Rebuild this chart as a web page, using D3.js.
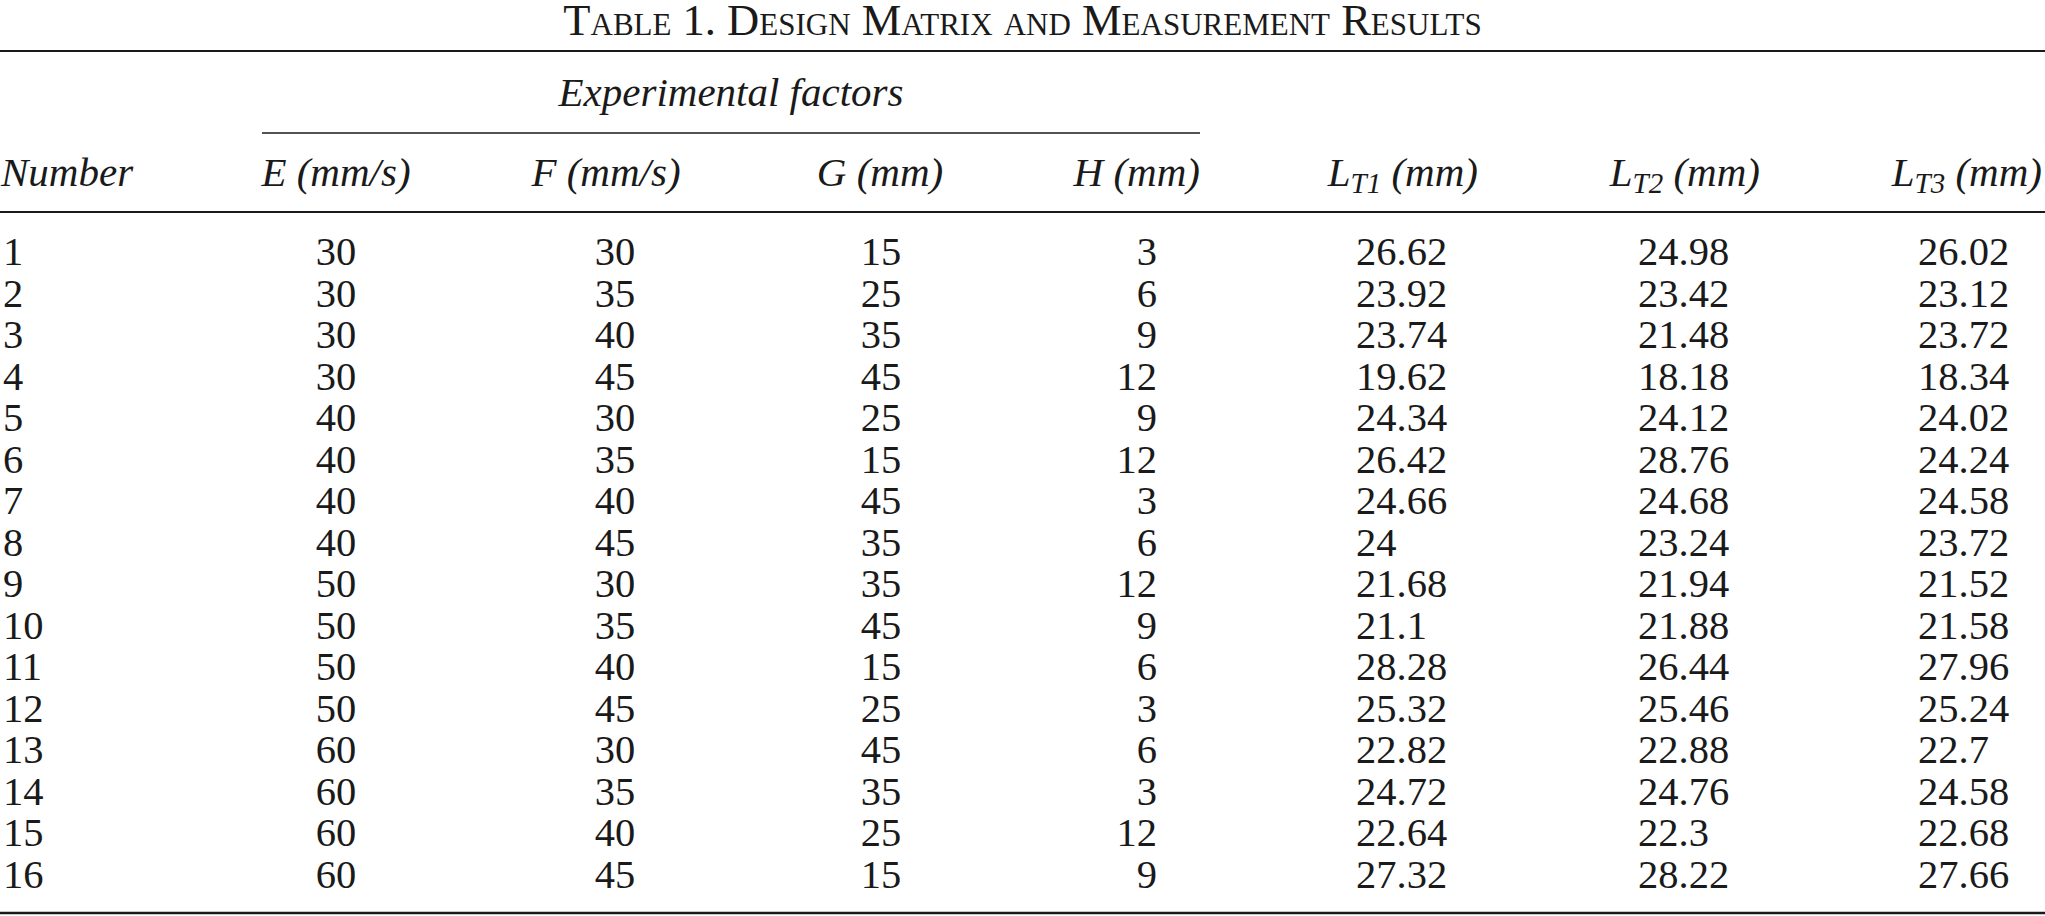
<!DOCTYPE html>
<html>
<head>
<meta charset="utf-8">
<script src="https://cdn.jsdelivr.net/npm/d3@7"></script>
<style>
  html, body { margin: 0; padding: 0; background: #fff; }
  svg { display: block; }
  text { font-family: "Liberation Serif", "Times New Roman", serif; fill: #1a1a1a; }
</style>
</head>
<body>
<svg id="chart" width="2045" height="916"></svg>
<script>
// ---- data ----
const runNumbers = [1, 2, 3, 4, 5, 6, 7, 8, 9, 10, 11, 12, 13, 14, 15, 16];
const factorE = [30, 30, 30, 30, 40, 40, 40, 40, 50, 50, 50, 50, 60, 60, 60, 60];
const factorF = [30, 35, 40, 45, 30, 35, 40, 45, 30, 35, 40, 45, 30, 35, 40, 45];
const factorG = [15, 25, 35, 45, 25, 15, 45, 35, 35, 45, 15, 25, 45, 35, 25, 15];
const factorH = [3, 6, 9, 12, 9, 12, 3, 6, 12, 9, 6, 3, 6, 3, 12, 9];
const resultLT1 = [26.62, 23.92, 23.74, 19.62, 24.34, 26.42, 24.66, 24, 21.68, 21.1, 28.28, 25.32, 22.82, 24.72, 22.64, 27.32];
const resultLT2 = [24.98, 23.42, 21.48, 18.18, 24.12, 28.76, 24.68, 23.24, 21.94, 21.88, 26.44, 25.46, 22.88, 24.76, 22.3, 28.22];
const resultLT3 = [26.02, 23.12, 23.72, 18.34, 24.02, 24.24, 24.58, 23.72, 21.52, 21.58, 27.96, 25.24, 22.7, 24.58, 22.68, 27.66];

const titleText = "Table 1. Design Matrix and Measurement Results";
const groupLabel = "Experimental factors";

// ---- layout ----
const W = 2045;
const svg = d3.select("#chart");
const bodySize = 40.5;
const headSize = 41;

const y = d3.scalePoint().domain(runNumbers).range([265, 888]);

// Title (small caps), fitted to the reference width
const title = svg.append("text")
  .attr("x", W / 2).attr("y", 35)
  .attr("text-anchor", "middle")
  .style("font-variant", "small-caps")
  .style("font-size", "34px")
  .text(titleText);
const tw = title.node().getComputedTextLength();
title.style("font-size", (34 * 928 / tw) + "px");

// Rules
const rules = [
  { x1: 0, x2: W, y: 51, w: 2 },
  { x1: 262, x2: 1200, y: 133, w: 1.6 },
  { x1: 0, x2: W, y: 212, w: 1.8 },
  { x1: 0, x2: W, y: 913, w: 2.4 }
];
svg.selectAll("line.rule").data(rules).join("line")
  .attr("class", "rule")
  .attr("x1", d => d.x1).attr("x2", d => d.x2)
  .attr("y1", d => d.y).attr("y2", d => d.y)
  .attr("stroke", "#1a1a1a").attr("stroke-width", d => d.w);

// Group label
svg.append("text")
  .attr("x", 731).attr("y", 106)
  .attr("text-anchor", "middle")
  .style("font-style", "italic")
  .style("font-size", headSize + "px")
  .text(groupLabel);

// Columns
const columns = [
  { head: "Number", sub: null, unit: "", hx: 1, ha: "start", vals: runNumbers, vx: 3, va: "start" },
  { head: "E", sub: null, unit: " (mm/s)", hx: 336, ha: "middle", vals: factorE, vx: 336, va: "middle" },
  { head: "F", sub: null, unit: " (mm/s)", hx: 606, ha: "middle", vals: factorF, vx: 615, va: "middle" },
  { head: "G", sub: null, unit: " (mm)", hx: 880, ha: "middle", vals: factorG, vx: 881, va: "middle" },
  { head: "H", sub: null, unit: " (mm)", hx: 1200, ha: "end", vals: factorH, vx: 1157, va: "end" },
  { head: "L", sub: "T1", unit: " (mm)", hx: 1478, ha: "end", vals: resultLT1, vx: 1356, va: "start" },
  { head: "L", sub: "T2", unit: " (mm)", hx: 1760, ha: "end", vals: resultLT2, vx: 1638, va: "start" },
  { head: "L", sub: "T3", unit: " (mm)", hx: 2042, ha: "end", vals: resultLT3, vx: 1918, va: "start" }
];

columns.forEach(c => {
  const h = svg.append("text")
    .attr("x", c.hx).attr("y", 186)
    .attr("text-anchor", c.ha)
    .style("font-style", "italic")
    .style("font-size", headSize + "px");
  h.append("tspan").text(c.head);
  if (c.sub) {
    h.append("tspan").attr("dy", 7).style("font-size", "29px").text(c.sub);
    h.append("tspan").attr("dy", -7).text(c.unit);
  } else {
    h.append("tspan").text(c.unit);
  }

  svg.append("g").selectAll("text").data(c.vals).join("text")
    .attr("x", c.vx)
    .attr("y", (d, i) => y(runNumbers[i]))
    .attr("text-anchor", c.va)
    .style("font-size", bodySize + "px")
    .text(d => String(d));
});
</script>
</body>
</html>
